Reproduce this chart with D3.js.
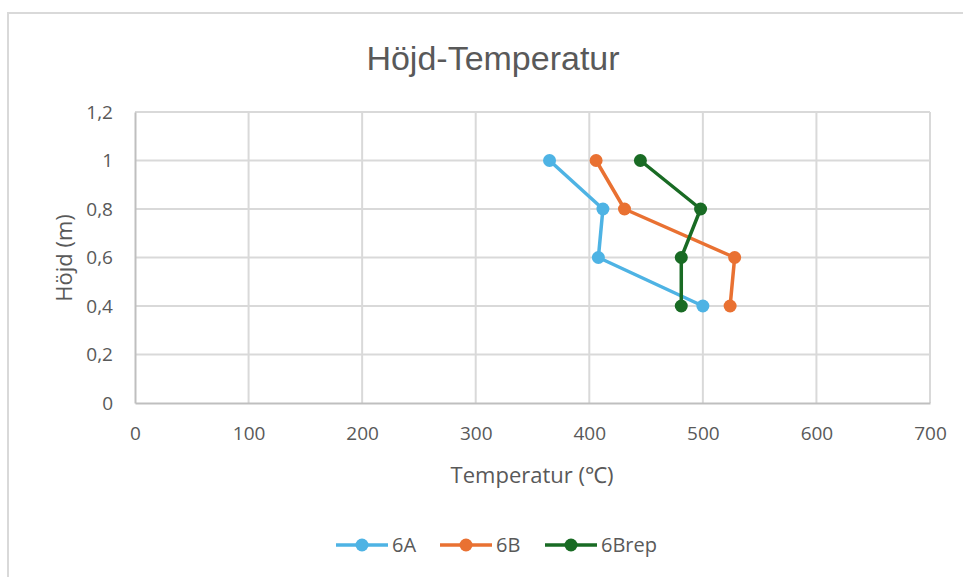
<!DOCTYPE html>
<html><head><meta charset="utf-8">
<script src="https://cdn.jsdelivr.net/npm/d3@7"></script>
<style>html,body{margin:0;padding:0;background:#fff;}svg{display:block;}</style>
</head><body>
<svg id="c" width="963" height="577"></svg>
<script>
const heights = [1, 0.8, 0.6, 0.4];
const seriesNames = ["6A", "6B", "6Brep"];
const temp6A = [365, 412, 408, 500];
const temp6B = [406, 431, 528, 524];
const temp6Brep = [445, 498, 481, 481];
const xTicks = [0, 100, 200, 300, 400, 500, 600, 700];
const yTicks = [0, 0.2, 0.4, 0.6, 0.8, 1, 1.2];
const colors = ["#4EB3E4", "#E97132", "#196B24"];

const svg = d3.select("#c");
const font = "'Liberation Sans',Arial,sans-serif";
const font2 = "'Open Sans','Noto Sans',sans-serif";
const txt = "#595959";

svg.append("rect").attr("x", 8).attr("y", 13).attr("width", 970).attr("height", 600)
  .attr("fill", "#fff").attr("stroke", "#d9d9d9").attr("stroke-width", 2);

const x = d3.scaleLinear().domain([0, 700]).range([135, 930]);
const y = d3.scaleLinear().domain([0, 1.2]).range([403, 112]);

// gridlines
svg.append("g").selectAll("line.v").data(xTicks.slice(1)).join("line")
  .attr("x1", d => x(d)).attr("x2", d => x(d)).attr("y1", y(0)).attr("y2", y(1.2))
  .attr("stroke", "#d9d9d9").attr("stroke-width", 2);
svg.append("g").selectAll("line.h").data(yTicks.slice(1)).join("line")
  .attr("x1", x(0)).attr("x2", x(700)).attr("y1", d => y(d)).attr("y2", d => y(d))
  .attr("stroke", "#d9d9d9").attr("stroke-width", 2);

// axes
const fmt = d => String(d).replace(".", ",");
const xAxis = svg.append("g").attr("transform", `translate(0,${y(0)})`)
  .call(d3.axisBottom(x).tickValues(xTicks).tickSize(0).tickPadding(24).tickFormat(fmt));
const yAxis = svg.append("g").attr("transform", `translate(${x(0)},0)`)
  .call(d3.axisLeft(y).tickValues(yTicks).tickSize(0).tickPadding(22).tickFormat(fmt));
[xAxis, yAxis].forEach(a => {
  a.select(".domain").attr("stroke", "#bfbfbf").attr("stroke-width", 2);
  a.selectAll("text").attr("fill", txt).style("font-family", font2).style("font-size", "19px");
});

// series
const data = [temp6A, temp6B, temp6Brep];
const line = d3.line().x(d => x(d[0])).y(d => y(d[1]));
data.forEach((s, i) => {
  const pts = s.map((t, j) => [t, heights[j]]);
  svg.append("path").attr("d", line(pts)).attr("fill", "none")
    .attr("stroke", colors[i]).attr("stroke-width", 3.5).attr("stroke-linejoin", "round");
  svg.append("g").selectAll("circle").data(pts).join("circle")
    .attr("cx", d => x(d[0])).attr("cy", d => y(d[1])).attr("r", 6.5).attr("fill", colors[i]);
});

// title
svg.append("text").attr("x", 493).attr("y", 70).attr("text-anchor", "middle")
  .attr("fill", txt).style("font-family", font).style("font-size", "34px").text("Höjd-Temperatur");
// axis titles
svg.append("text").attr("x", 532).attr("y", 483).attr("text-anchor", "middle")
  .attr("fill", txt).style("font-family", font2).style("font-size", "22px").text("Temperatur (℃)");
svg.append("text").attr("transform", "translate(72,258) rotate(-90)").attr("text-anchor", "middle")
  .attr("fill", txt).style("font-family", font2).style("font-size", "22px").text("Höjd (m)");

// legend
const legX = [336, 440, 545];
const lg = svg.append("g");
seriesNames.forEach((n, i) => {
  const g = lg.append("g").attr("transform", `translate(${legX[i]},545)`);
  g.append("line").attr("x1", 0).attr("x2", 52).attr("stroke", colors[i]).attr("stroke-width", 3.5);
  g.append("circle").attr("cx", 26).attr("r", 6.5).attr("fill", colors[i]);
  g.append("text").attr("x", 56).attr("y", 7).attr("fill", txt)
    .style("font-family", font2).style("font-size", "20px").text(n);
});
</script>
</body></html>
